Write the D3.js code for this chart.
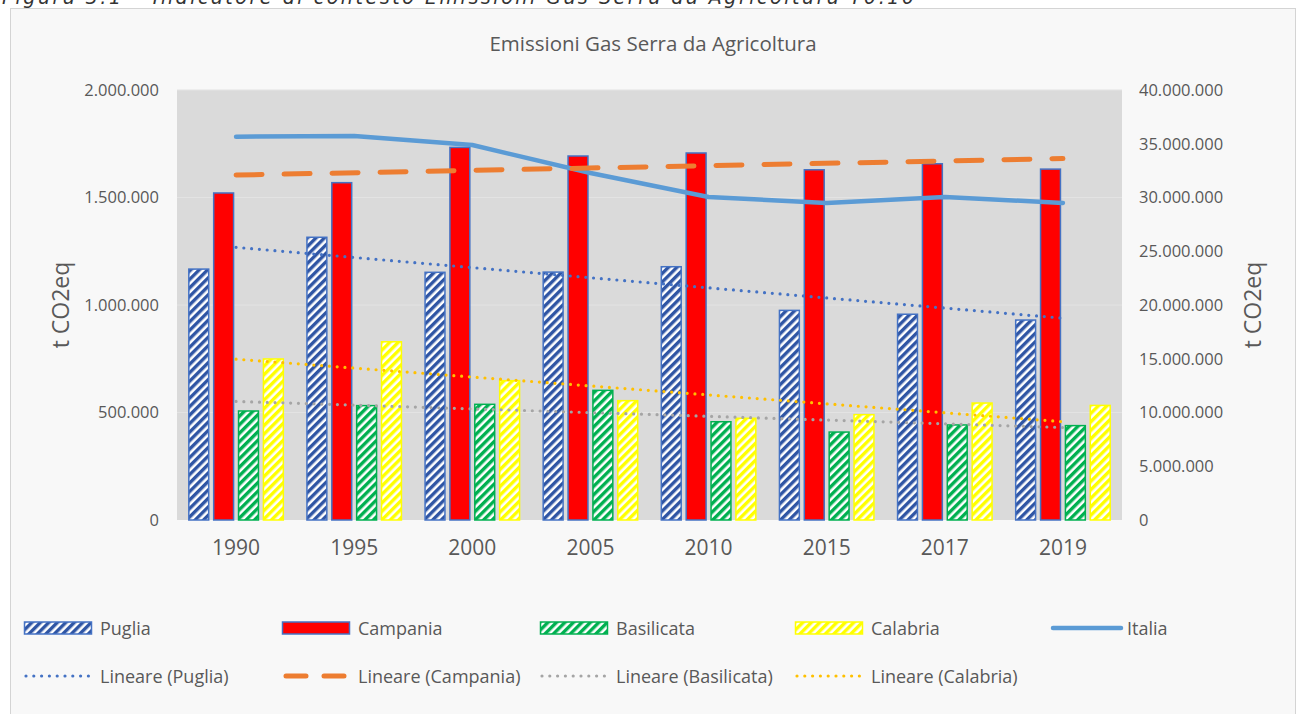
<!doctype html>
<html>
<head>
<meta charset="utf-8">
<script src="https://cdnjs.cloudflare.com/ajax/libs/d3/7.8.5/d3.min.js"></script>
<style>
body { margin: 0; background: #fff; }
text { font-family: "Open Sans", "Noto Sans", sans-serif; fill: #595959; }
.caption { font-family: "DejaVu Sans", sans-serif; font-style: italic; fill: #333; }
.tick line, .domain { display: none; }
</style>
</head>
<body>
<svg id="chart" width="1301" height="714"></svg>
<script>
// data
const years = ["1990", "1995", "2000", "2005", "2010", "2015", "2017", "2019"];
const puglia = [1167000, 1315000, 1152000, 1153000, 1178000, 975000, 957000, 930000];
const campania = [1521000, 1569000, 1733000, 1693000, 1707000, 1629000, 1657000, 1632000];
const basilicata = [507000, 532000, 538000, 603000, 457000, 409000, 442000, 439000];
const calabria = [749000, 829000, 648000, 555000, 473000, 490000, 544000, 533000];
const italia = [35660000, 35720000, 34880000, 32280000, 30050000, 29490000, 30050000, 29490000];
const leftTicks = [0, 500000, 1000000, 1500000, 2000000];
const rightTicks = [0, 5000000, 10000000, 15000000, 20000000, 25000000, 30000000, 35000000, 40000000];

const regions = [
  {name: "Puglia", values: puglia, color: "#2f55a4", stroke: "#4472c4", pattern: true, trend: "#4472c4"},
  {name: "Campania", values: campania, color: "#ff0000", stroke: "#4472c4", pattern: false, trend: "#ed7d31"},
  {name: "Basilicata", values: basilicata, color: "#00b050", stroke: "#00b050", pattern: true, trend: "#a5a5a5"},
  {name: "Calabria", values: calabria, color: "#ffff00", stroke: "#ffff00", pattern: true, trend: "#ffc000"}
];

const svg = d3.select("#chart");
const fmt = v => d3.format(",")(v).replace(/,/g, ".");

// caption cut off at top
svg.append("text").attr("class", "caption")
  .attr("x", 2).attr("y", 4).attr("font-size", 19)
  .attr("textLength", 912).attr("lengthAdjust", "spacing")
  .text("Figura 3.1 – Indicatore di contesto Emissioni Gas Serra da Agricoltura T0.10");

// chart frame
svg.append("rect").attr("x", 10.5).attr("y", 8.5).attr("width", 1285).attr("height", 720)
  .attr("fill", "#f8f8f8").attr("stroke", "#d4d4d4");

const defs = svg.append("defs");
regions.filter(r => r.pattern).forEach(r => {
  const p = defs.append("pattern").attr("id", "pat-" + r.name)
    .attr("patternUnits", "userSpaceOnUse").attr("width", 6).attr("height", 6)
    .attr("patternTransform", "rotate(45)");
  p.append("rect").attr("width", 6).attr("height", 6).attr("fill", "#fff");
  p.append("rect").attr("width", 3.4).attr("height", 6).attr("fill", r.color);
});

const pLeft = 177, pRight = 1122, pTop = 90, pBottom = 520;

svg.append("rect").attr("x", pLeft).attr("y", pTop).attr("width", pRight - pLeft).attr("height", pBottom - pTop)
  .attr("fill", "#dadada");

const x0 = d3.scaleBand().domain(years).range([pLeft, pRight]).paddingInner(0.2).paddingOuter(0.1);
const x1 = d3.scaleBand().domain(regions.map(r => r.name)).range([0, x0.bandwidth()]).paddingInner(0.2);
const yL = d3.scaleLinear().domain([0, 2000000]).range([pBottom, pTop]);
const yR = d3.scaleLinear().domain([0, 40000000]).range([pBottom, pTop]);
const cx = y => x0(y) + x0.bandwidth() / 2;

// gridlines
svg.append("g").selectAll("line").data(leftTicks.slice(1)).join("line")
  .attr("x1", pLeft).attr("x2", pRight)
  .attr("y1", d => yL(d)).attr("y2", d => yL(d))
  .attr("stroke", "#e3e3e3").attr("stroke-width", 1);

// axes
svg.append("g").attr("transform", `translate(${pLeft},0)`)
  .call(d3.axisLeft(yL).tickValues(leftTicks).tickFormat(fmt).tickSize(0).tickPadding(18))
  .selectAll("text").attr("font-size", 16.5).style("font-family", "Open Sans").attr("fill", "#595959");
svg.append("g").attr("transform", `translate(${pRight},0)`)
  .call(d3.axisRight(yR).tickValues(rightTicks).tickFormat(fmt).tickSize(0).tickPadding(17))
  .selectAll("text").attr("font-size", 16.5).style("font-family", "Open Sans").attr("fill", "#595959");
svg.append("g").attr("transform", `translate(0,${pBottom})`)
  .call(d3.axisBottom(x0).tickSize(0).tickPadding(20))
  .selectAll("text").attr("font-size", 21).style("font-family", "Open Sans").attr("fill", "#595959");

// bars
regions.forEach(r => {
  svg.append("g").selectAll("rect").data(years).join("rect")
    .attr("x", (d) => x0(d) + x1(r.name))
    .attr("width", x1.bandwidth())
    .attr("y", (d, i) => yL(r.values[i]))
    .attr("height", (d, i) => pBottom - yL(r.values[i]))
    .attr("fill", r.pattern ? `url(#pat-${r.name})` : r.color)
    .attr("stroke", r.stroke).attr("stroke-width", 1.5);
});

// Italia line
const italiaLine = d3.line().x((d, i) => cx(years[i])).y(d => yR(d));
svg.append("path").datum(italia).attr("d", italiaLine)
  .attr("fill", "none").attr("stroke", "#5b9bd5").attr("stroke-width", 4.5)
  .attr("stroke-linecap", "round").attr("stroke-linejoin", "round");

// linear trendlines (least squares on category index)
function trend(vals) {
  const n = vals.length, mx = (n - 1) / 2, my = d3.mean(vals);
  let sxy = 0, sxx = 0;
  vals.forEach((v, i) => { sxy += (i - mx) * (v - my); sxx += (i - mx) * (i - mx); });
  const b = sxy / sxx, a = my - b * mx;
  return [a, a + b * (n - 1)];
}
const trendStyle = {
  Puglia: {w: 3.2, dash: "0 7.8"},
  Campania: {w: 5, dash: "26 22"},
  Basilicata: {w: 3.2, dash: "0 7.8"},
  Calabria: {w: 3.2, dash: "0 7.8"}
};
regions.forEach(r => {
  const [a, b] = trend(r.values);
  svg.append("line")
    .attr("x1", cx(years[0])).attr("x2", cx(years[years.length - 1]))
    .attr("y1", yL(a)).attr("y2", yL(b))
    .attr("stroke", r.trend).attr("stroke-width", trendStyle[r.name].w)
    .attr("stroke-dasharray", trendStyle[r.name].dash).attr("stroke-linecap", "round");
});

// titles
svg.append("text").attr("x", 653).attr("y", 51).attr("text-anchor", "middle")
  .attr("font-size", 20.5).text("Emissioni Gas Serra da Agricoltura");
svg.append("text").attr("transform", "translate(69,305) rotate(-90)").attr("text-anchor", "middle")
  .attr("font-size", 23).text("t CO2eq");
svg.append("text").attr("transform", "translate(1261,305) rotate(-90)").attr("text-anchor", "middle")
  .attr("font-size", 23).text("t CO2eq");

// legend
const legendItems = [
  {label: "Puglia", type: "bar", r: regions[0], x: 24, y: 628},
  {label: "Campania", type: "bar", r: regions[1], x: 282, y: 628},
  {label: "Basilicata", type: "bar", r: regions[2], x: 540, y: 628},
  {label: "Calabria", type: "bar", r: regions[3], x: 795, y: 628},
  {label: "Italia", type: "line", color: "#5b9bd5", x: 1051, y: 628},
  {label: "Lineare (Puglia)", type: "trend", r: regions[0], x: 24, y: 676},
  {label: "Lineare (Campania)", type: "trend", r: regions[1], x: 282, y: 676},
  {label: "Lineare (Basilicata)", type: "trend", r: regions[2], x: 540, y: 676},
  {label: "Lineare (Calabria)", type: "trend", r: regions[3], x: 795, y: 676}
];
const lg = svg.append("g").selectAll("g").data(legendItems).join("g")
  .attr("transform", d => `translate(${d.x},${d.y})`);
lg.each(function(d) {
  const g = d3.select(this);
  if (d.type === "bar") {
    g.append("rect").attr("x", 0.5).attr("y", -6).attr("width", 67).attr("height", 12)
      .attr("fill", d.r.pattern ? `url(#pat-${d.r.name})` : d.r.color)
      .attr("stroke", d.r.stroke).attr("stroke-width", 1.5);
  } else if (d.type === "line") {
    g.append("line").attr("x1", 2).attr("x2", 70).attr("y1", 0).attr("y2", 0)
      .attr("stroke", d.color).attr("stroke-width", 4.5).attr("stroke-linecap", "round");
  } else {
    const st = trendStyle[d.r.name];
    const dash = d.r.name === "Campania" ? "20 18" : "0 7.8";
    g.append("line").attr("x1", d.r.name === "Campania" ? 4 : 2).attr("x2", 67).attr("y1", 0).attr("y2", 0)
      .attr("stroke", d.r.trend).attr("stroke-width", st.w)
      .attr("stroke-dasharray", dash).attr("stroke-linecap", "round");
  }
  g.append("text").attr("x", 76).attr("y", 6.5).attr("font-size", 18).text(d.label);
});
</script>
</body>
</html>
